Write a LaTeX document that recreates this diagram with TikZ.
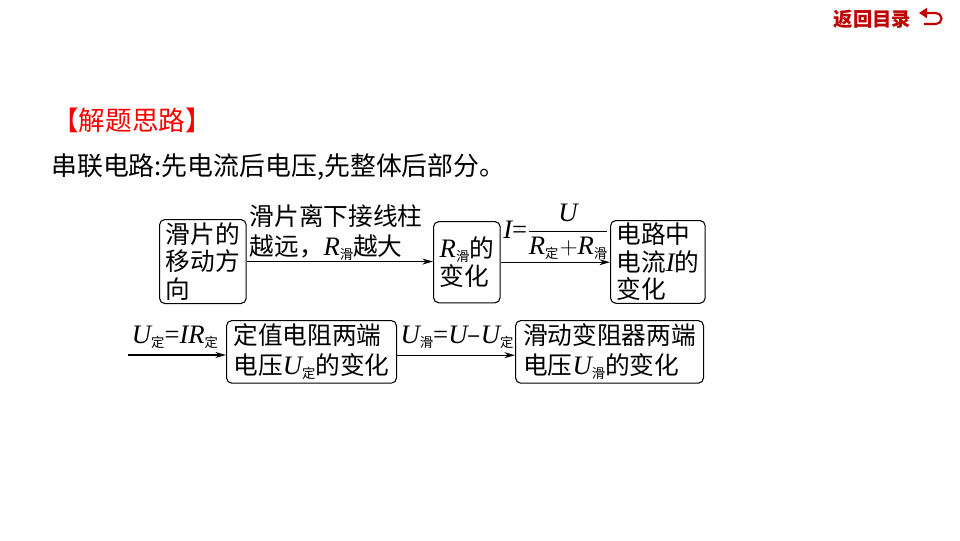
\documentclass[tikz,border=0pt]{standalone}
\usepackage{fix-cm}
\usepackage{amsmath}
\usepackage{fontspec}
\setmainfont{Noto Sans CJK SC}
\newfontfamily\latinserif{Liberation Serif}
\usetikzlibrary{arrows.meta,positioning}

\definecolor{backred}{RGB}{192,0,0}
\definecolor{headred}{RGB}{255,0,0}

\newcommand{\flowfont}{\fontsize{18.5}{20.5}\selectfont}
\newcommand{\qty}[1]{\text{\latinserif\itshape\fontsize{20}{20}\selectfont #1}}
\newcommand{\sub}[1]{\raisebox{-0.3ex}{\fontsize{10}{10}\selectfont #1}}
\newcommand{\eqsign}{\text{\latinserif\fontsize{20}{20}\selectfont =}}

\begin{document}
\begin{tikzpicture}[
    x=0.75pt, y=-0.75pt,
    flow box/.style={draw, line width=0.8pt, rounded corners=4pt, anchor=north west,
        align=left, inner sep=2pt, font=\flowfont},
    flow label/.style={inner sep=1pt, align=left, font=\flowfont},
    flow arrow/.style={line width=0.8pt, -{Stealth[length=8pt,width=4.5pt]}}
]
\useasboundingbox (0,0) rectangle (960,540);

% HEADER
\node[font=\fontsize{14.5}{14.5}\selectfont\bfseries, text=backred, anchor=east] (back) at (916,19) {返回目录};
\draw[backred, line width=1.6pt, -{Triangle[length=6pt,width=7.5pt]}]
    (924,24) -- (936,24) arc[start angle=90, end angle=-90, radius=5.5] -- (919,13);
\node[font=\fontsize{20}{20}\selectfont, text=headred, anchor=west, inner sep=0pt] (hint) at (52,120) {【解题思路】};
\node[font=\fontsize{19.4}{19.4}\selectfont, anchor=west, inner sep=0pt] (rule) at (51,167) {串联电路:先电流后电压,先整体后部分。};

% FIRST ROW
\node[flow box, minimum width=65pt, minimum height=63pt] (slidedir) at (159,219) {滑片的\\移动方\\向};
\node[flow box, minimum width=50pt, minimum height=61pt] (rslide) at (433,221) {\qty{R}\sub{滑}的\\变化};
\node[flow box, minimum width=71pt, minimum height=61.5pt] (current) at (610,220) {电路中\\电流\qty{I}的\\变化};

\draw[flow arrow] (slidedir.east) -- (slidedir.east -| rslide.west);
\draw[flow arrow] (rslide.east) -- (rslide.east -| current.west);

\node[flow label, font=\fontsize{18.5}{22.5}\selectfont] (whyslide) at (336,233) {滑片离下接线柱\\越远，\qty{R}\sub{滑}越大};
\node[flow label, anchor=west, inner sep=0pt] (ohm) at (503,232)
    {$\qty{I}{\eqsign}\dfrac{\qty{U}}{\qty{R}\sub{定}\mkern1mu{+}\qty{R}\sub{滑}}$};

% SECOND ROW
\coordinate (rowtwo) at (128,355);
\node[flow box, font=\fontsize{18.5}{22.5}\selectfont, minimum width=127.5pt, minimum height=47pt] (ufix) at (226,320) {定值电阻两端\\电压\qty{U}\sub{定}的变化};
\node[flow box, font=\fontsize{18.5}{22.5}\selectfont, minimum width=141pt, minimum height=47pt] (uslide) at (515,320) {滑动变阻器两端\\电压\qty{U}\sub{滑}的变化};

\draw[flow arrow] (rowtwo) -- (rowtwo -| ufix.west);
\draw[flow arrow] ([yshift=-2.5pt]ufix.east) -- ([yshift=-2.5pt]ufix.east -| uslide.west);

\node[flow label] (ufixrule) at (175,337) {\qty{U}\sub{定}\eqsign\qty{IR}\sub{定}};
\node[flow label] (uslirule) at (457,337) {\qty{U}\sub{滑}\eqsign\qty{U}–\qty{U}\sub{定}};

\end{tikzpicture}
\end{document}
